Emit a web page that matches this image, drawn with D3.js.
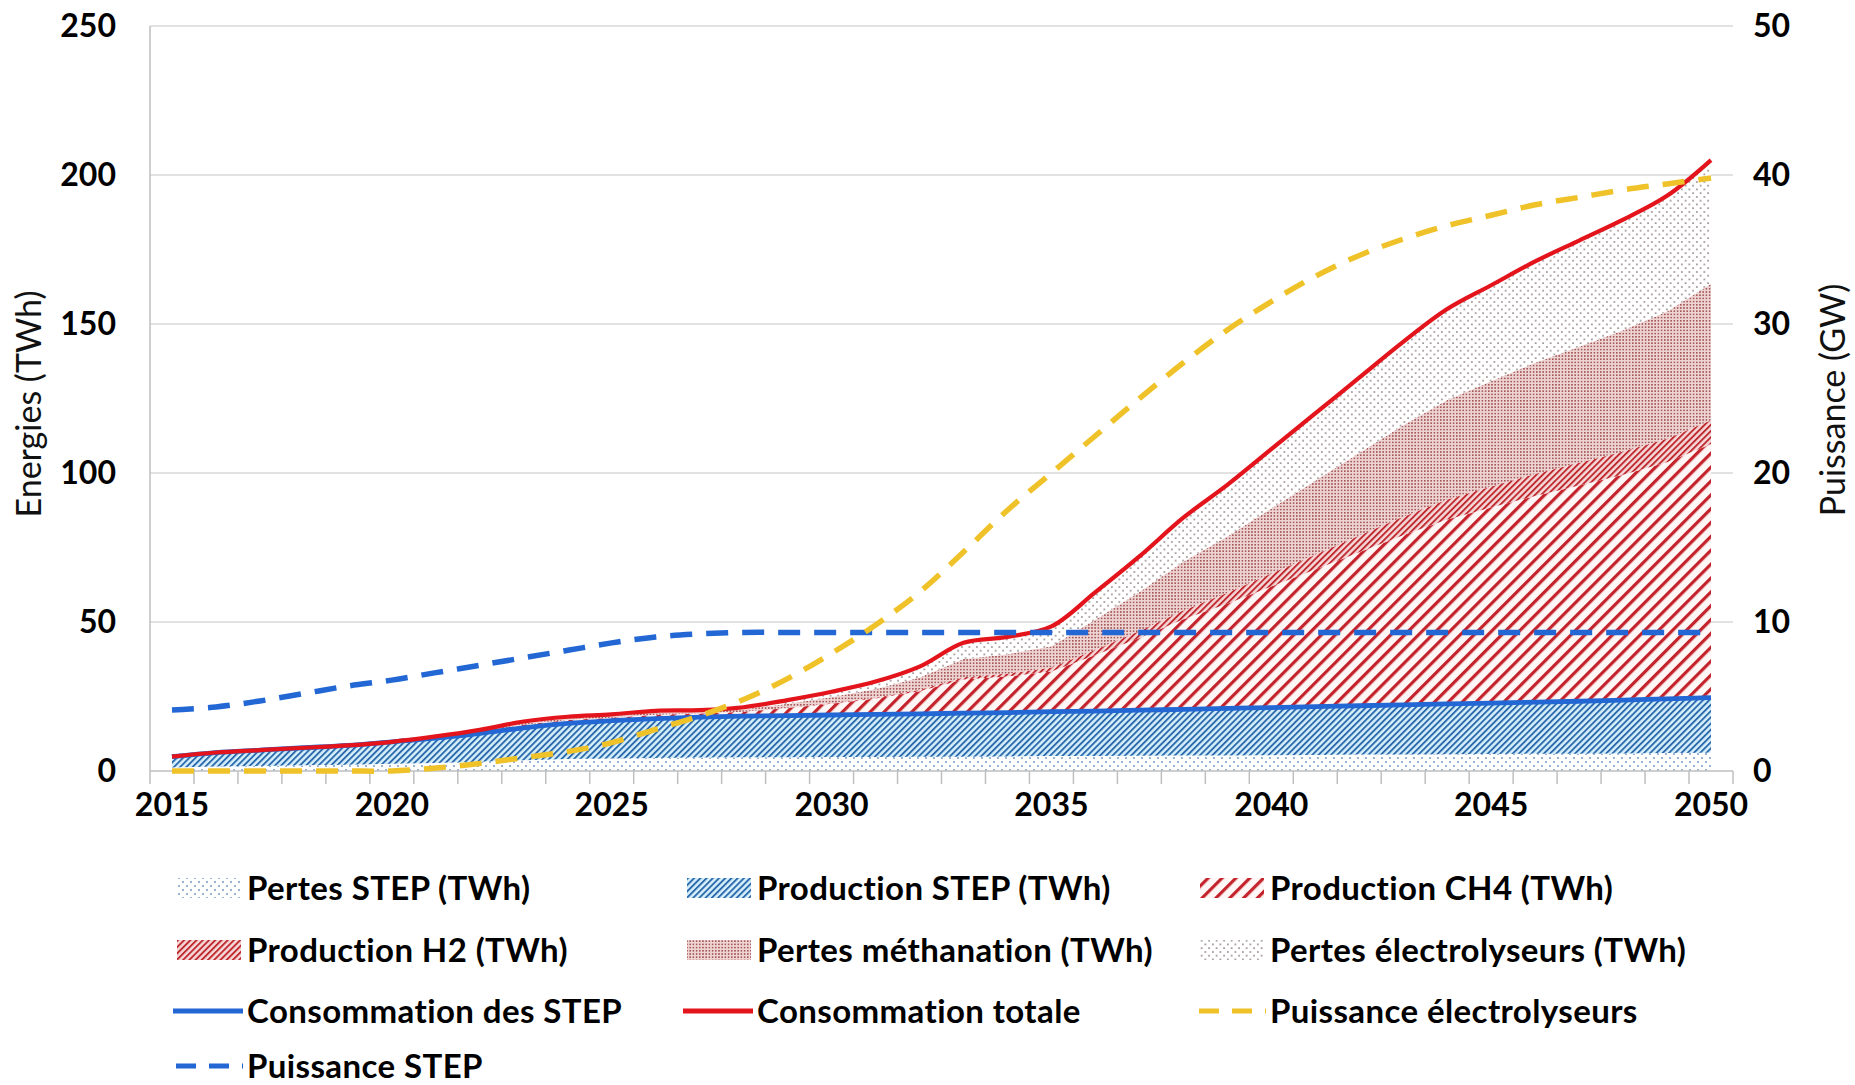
<!DOCTYPE html>
<html>
<head>
<meta charset="utf-8">
<script src="https://cdn.jsdelivr.net/npm/d3@7"></script>
<style>
  html, body { margin: 0; padding: 0; background: #ffffff; }
  svg { display: block; }
  text { font-family: Lato, "Open Sans", sans-serif; }
</style>
</head>
<body>
<svg id="chart" width="1855" height="1085"></svg>
<script>
// ---------------- DATA ----------------
const years = d3.range(2015, 2051);
const labelYears = [2015, 2020, 2025, 2030, 2035, 2040, 2045, 2050];
const leftTicks = [0, 50, 100, 150, 200, 250];
const rightTicks = [0, 10, 20, 30, 40, 50];

const pertesSTEP = [1.2,1.5,1.7,1.9,2.1,2.4,2.7,3.1,3.6,4.0,4.2,4.4,4.5,4.6,4.6,4.7,4.7,4.8,4.8,4.9,5.0,5.0,5.1,5.2,5.2,5.3,5.4,5.5,5.5,5.6,5.7,5.8,5.8,5.9,6.0,6.1];
const productionSTEP = [3.6,4.7,5.3,5.9,6.5,7.4,8.3,9.5,10.9,12.0,12.7,13.2,13.6,13.8,14.0,14.1,14.3,14.4,14.6,14.7,14.9,15.1,15.3,15.5,15.8,16.0,16.2,16.4,16.7,16.9,17.1,17.3,17.6,17.9,18.2,18.5];
const productionCH4 = [0,0,0,0,0,0,0.3,0.6,1.0,1.1,1.0,1.3,1.2,1.5,2.5,3.8,5.3,7.6,11.3,12.1,13.5,18.8,24.2,30.2,35.1,40.6,46.0,51.5,56.9,61.9,65.6,69.2,72.4,75.6,79.4,85.1];
const productionH2 = [0,0,0,0,0,0,0,0,0,0,0,0,0,0,0.1,0.2,0.3,0.5,0.8,1.0,1.3,1.8,2.4,3.0,3.7,4.4,5.0,5.6,6.2,6.7,7.1,7.4,7.6,7.8,7.9,8.0];
const pertesMethanation = [0,0,0,0,0,0,0.2,0.3,0.6,0.6,0.6,0.7,0.6,0.8,1.4,2.0,2.9,4.1,6.1,6.5,7.2,10.1,13.1,16.3,18.9,21.8,24.8,27.7,30.7,33.4,35.3,37.3,39.0,40.7,42.7,45.8];
const pertesElectrolyseurs = [0,0,0,0,0,0,0.1,0.3,0.5,0.5,0.5,0.6,0.5,0.7,1.2,1.8,2.5,3.6,5.4,5.8,6.6,9.2,11.9,14.8,17.3,19.9,22.6,25.3,28.0,30.5,32.2,34.0,35.6,37.1,38.8,41.5];
const consommationSTEP = [4.8,6.2,7.0,7.8,8.6,9.8,11.0,12.6,14.5,16.0,16.9,17.6,18.1,18.4,18.6,18.8,19.0,19.2,19.4,19.6,19.9,20.1,20.4,20.7,21.0,21.3,21.6,21.9,22.2,22.5,22.8,23.1,23.4,23.8,24.2,24.6];
const consommationTotale = [4.8,6.2,7.0,7.8,8.6,9.8,11.6,13.8,16.6,18.2,19.0,20.2,20.4,21.4,23.8,26.6,30.0,35.0,43.0,45.0,48.5,60,72,85,96,108,120,132,144,155,163,171,178,185,193,205];
const puissanceElectrolyseurs = [0,0,0,0,0,0,0.2,0.5,0.9,1.3,1.9,2.8,3.7,4.8,6.2,7.9,9.8,12.0,14.7,17.5,20.0,22.5,25.0,27.4,29.6,31.5,33.2,34.6,35.7,36.6,37.3,38.0,38.5,39.0,39.4,39.8];
const puissanceSTEP = [4.1,4.3,4.7,5.2,5.7,6.1,6.6,7.1,7.6,8.1,8.6,9.0,9.2,9.3,9.3,9.3,9.3,9.3,9.3,9.3,9.3,9.3,9.3,9.3,9.3,9.3,9.3,9.3,9.3,9.3,9.3,9.3,9.3,9.3,9.3,9.3];

const areaKeys = ["Pertes STEP (TWh)", "Production STEP (TWh)", "Production CH4 (TWh)",
                  "Production H2 (TWh)", "Pertes méthanation (TWh)", "Pertes électrolyseurs (TWh)"];
const areaSeries = [pertesSTEP, productionSTEP, productionCH4, productionH2, pertesMethanation, pertesElectrolyseurs];

// ---------------- LAYOUT ----------------
const svg = d3.select("#chart");
const L = 150, R = 1733, T = 26, B = 771;

const x = d3.scaleBand().domain(years).range([L, R]).padding(0);
const xc = yr => x(yr) + x.bandwidth() / 2;
const y = d3.scaleLinear().domain([0, 250]).range([B, T]);
const y2 = d3.scaleLinear().domain([0, 50]).range([B, T]);

// ---------------- PATTERNS ----------------
const defs = svg.append("defs");
function dotPattern(id, size, r, dot, bg, stagger) {
  const p = defs.append("pattern").attr("id", id).attr("patternUnits", "userSpaceOnUse")
    .attr("width", size).attr("height", size);
  p.append("rect").attr("width", size).attr("height", size).attr("fill", bg);
  p.append("circle").attr("cx", size * 0.25).attr("cy", size * 0.25).attr("r", r).attr("fill", dot);
  if (stagger) p.append("circle").attr("cx", size * 0.75).attr("cy", size * 0.75).attr("r", r).attr("fill", dot);
}
function hatchPattern(id, period, stroke, color, bg) {
  const p = defs.append("pattern").attr("id", id).attr("patternUnits", "userSpaceOnUse")
    .attr("width", period).attr("height", period).attr("patternTransform", "rotate(45)");
  p.append("rect").attr("width", period).attr("height", period).attr("fill", bg);
  p.append("rect").attr("x", 0).attr("width", stroke).attr("height", period).attr("fill", color);
}
dotPattern("pStepLoss", 8, 0.95, "#6f93c0", "#ffffff", true);
hatchPattern("pStepProd", 4.4, 1.9, "#2c6aad", "#d6f0fb");
hatchPattern("pCH4", 9.8, 3.2, "#c4232b", "#fff6f6");
hatchPattern("pH2", 4.4, 1.9, "#bf2a30", "#f6d8d8");
dotPattern("pMeth", 3.2, 0.85, "#9a4646", "#efd4d4", false);
dotPattern("pElec", 7.5, 0.8, "#5e4a4a", "#ffffff", true);
const fills = ["url(#pStepLoss)", "url(#pStepProd)", "url(#pCH4)", "url(#pH2)", "url(#pMeth)", "url(#pElec)"];

// ---------------- GRID & AXES ----------------
const grid = svg.append("g");
grid.selectAll("line").data(leftTicks.filter(d => d > 0)).join("line")
  .attr("x1", L).attr("x2", R).attr("y1", d => y(d)).attr("y2", d => y(d))
  .attr("stroke", "#d9d9d9").attr("stroke-width", 1.5);

// ---------------- AREAS ----------------
const table = years.map((yr, i) => {
  const row = { year: yr };
  areaKeys.forEach((k, j) => row[k] = areaSeries[j][i]);
  return row;
});
const stacked = d3.stack().keys(areaKeys)(table);
const area = d3.area()
  .x(d => xc(d.data.year)).y0(d => y(d[0])).y1(d => y(d[1]));
svg.append("g").selectAll("path").data(stacked).join("path")
  .attr("d", area).attr("fill", (d, i) => fills[i]).attr("stroke", "none");

// left axis line & bottom axis line
svg.append("line").attr("x1", L).attr("x2", L).attr("y1", T).attr("y2", B)
  .attr("stroke", "#bfbfbf").attr("stroke-width", 1.5);
svg.append("line").attr("x1", L).attr("x2", R).attr("y1", B).attr("y2", B)
  .attr("stroke", "#bfbfbf").attr("stroke-width", 1.5);
// category boundary ticks
svg.append("g").selectAll("line").data(years.concat([2051])).join("line")
  .attr("x1", d => d <= 2050 ? x(d) : R).attr("x2", d => d <= 2050 ? x(d) : R)
  .attr("y1", B).attr("y2", B + 13).attr("stroke", "#bfbfbf").attr("stroke-width", 1.5);

// x labels
const xAxis = svg.append("g").attr("transform", `translate(0,${B})`)
  .call(d3.axisBottom(x).tickValues(labelYears).tickSize(0).tickPadding(22));
xAxis.select(".domain").remove();
xAxis.selectAll("text").attr("font-size", 32).attr("font-weight", 700)
  .attr("fill", "#000").attr("font-family", "Lato, sans-serif");

// y left labels
const yAxis = svg.append("g").attr("transform", `translate(${L},0)`)
  .call(d3.axisLeft(y).tickValues(leftTicks).tickSize(0).tickPadding(34).tickFormat(d3.format("d")));
yAxis.select(".domain").remove();
yAxis.selectAll("text").attr("font-size", 32).attr("font-weight", 700)
  .attr("fill", "#000").attr("font-family", "Lato, sans-serif");

// y right labels
const yAxis2 = svg.append("g").attr("transform", `translate(${R},0)`)
  .call(d3.axisRight(y2).tickValues(rightTicks).tickSize(0).tickPadding(20).tickFormat(d3.format("d")));
yAxis2.select(".domain").remove();
yAxis2.selectAll("text").attr("font-size", 32).attr("font-weight", 700)
  .attr("fill", "#000").attr("font-family", "Lato, sans-serif");

// axis titles
svg.append("text").attr("transform", "translate(41,404) rotate(-90)")
  .attr("text-anchor", "middle").attr("font-size", 34).attr("fill", "#111")
  .text("Energies (TWh)");
svg.append("text").attr("transform", "translate(1845,400) rotate(-90)")
  .attr("text-anchor", "middle").attr("font-size", 34).attr("fill", "#111")
  .text("Puissance (GW)");

// ---------------- LINES ----------------
const smooth = d3.curveCatmullRom.alpha(0.5);
const lineL = d3.line().x((d, i) => xc(years[i])).y(d => y(d)).curve(smooth);
const lineR = d3.line().x((d, i) => xc(years[i])).y(d => y2(d)).curve(smooth);

const lines = svg.append("g").attr("fill", "none").attr("stroke-linecap", "butt");
lines.append("path").attr("d", lineL(consommationSTEP))
  .attr("stroke", "#2267d4").attr("stroke-width", 4.8);
lines.append("path").attr("d", lineL(consommationTotale))
  .attr("stroke", "#e3141b").attr("stroke-width", 4.2);
lines.append("path").attr("d", lineR(puissanceSTEP))
  .attr("stroke", "#2267d4").attr("stroke-width", 5.5).attr("stroke-dasharray", "22,14");
lines.append("path").attr("d", lineR(puissanceElectrolyseurs))
  .attr("stroke", "#efc22a").attr("stroke-width", 5.5).attr("stroke-dasharray", "22,14");

// ---------------- LEGEND ----------------
const legendItems = [
  { label: "Pertes STEP (TWh)", type: "fill", fill: fills[0] },
  { label: "Production STEP (TWh)", type: "fill", fill: fills[1] },
  { label: "Production CH4 (TWh)", type: "fill", fill: fills[2] },
  { label: "Production H2 (TWh)", type: "fill", fill: fills[3] },
  { label: "Pertes méthanation (TWh)", type: "fill", fill: fills[4] },
  { label: "Pertes électrolyseurs (TWh)", type: "fill", fill: fills[5] },
  { label: "Consommation des STEP", type: "line", color: "#2267d4", dash: null },
  { label: "Consommation totale", type: "line", color: "#e3141b", dash: null },
  { label: "Puissance électrolyseurs", type: "line", color: "#efc22a", dash: "22,14" },
  { label: "Puissance STEP", type: "line", color: "#2267d4", dash: "22,14" }
];
const colX = [173, 683, 1196];
const rowY = [888, 950, 1011, 1066];
const lg = svg.append("g");
legendItems.forEach((it, i) => {
  const cx = colX[i % 3], cy = rowY[Math.floor(i / 3)];
  const g = lg.append("g").attr("transform", `translate(${cx},${cy})`);
  if (it.type === "fill") {
    g.append("rect").attr("x", 4).attr("y", -10).attr("width", 64).attr("height", 20).attr("fill", it.fill);
  } else {
    g.append("line").attr("x1", 0).attr("x2", 70).attr("y1", 0).attr("y2", 0)
      .attr("stroke", it.color).attr("stroke-width", 5)
      .attr("stroke-dasharray", it.dash ? "20,13" : null)
      .attr("stroke-dashoffset", it.dash ? -3 : 0);
  }
  g.append("text").attr("x", 74).attr("y", 0).attr("dy", "0.36em")
    .attr("font-size", 33).attr("font-weight", 700).attr("fill", "#000")
    .attr("letter-spacing", 0.4)
    .text(it.label);
});
</script>
</body>
</html>
